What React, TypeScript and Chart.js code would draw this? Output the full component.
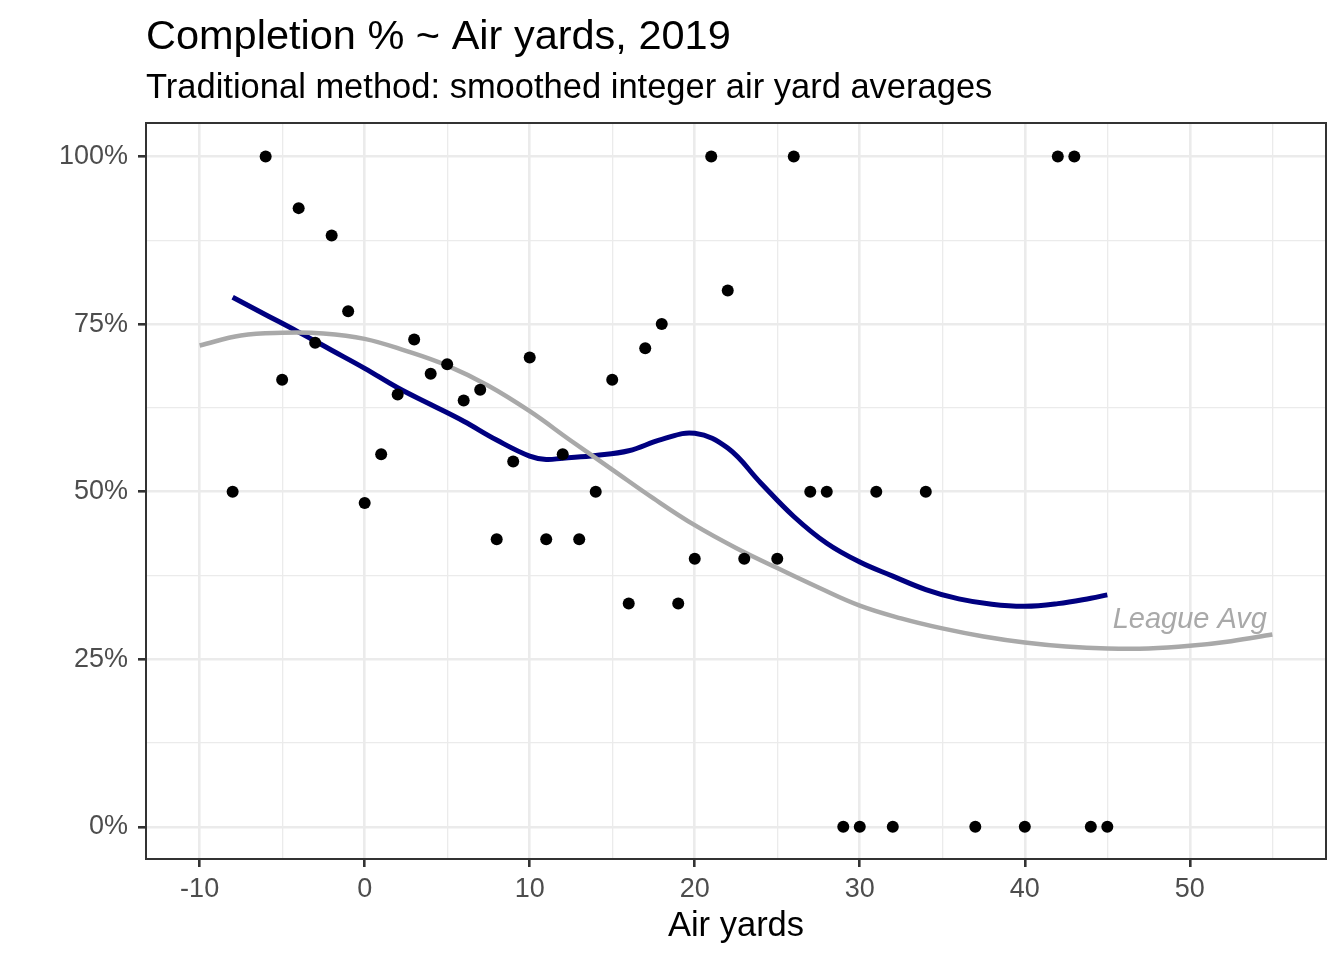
import { useEffect, useRef } from "react";
import { Chart, registerables } from "chart.js";

Chart.register(...registerables);

const TITLE = "Completion % ~ Air yards, 2019";
const SUBTITLE = "Traditional method: smoothed integer air yard averages";
const X_TITLE = "Air yards";
const LEAGUE_LABEL = "League Avg";
const LEAGUE_LABEL_X = 50;
const LEAGUE_LABEL_Y = 30.9;

const X_TICKS = [-10, -5, 0, 5, 10, 15, 20, 25, 30, 35, 40, 45, 50, 55];
const Y_TICKS = [0, 12.5, 25, 37.5, 50, 62.5, 75, 87.5, 100];

const airYards = [-8, -6, -5, -4, -3, -2, -1, 0, 1, 2, 3, 4, 5, 6, 7, 8, 9, 10, 11, 12, 13, 14, 15, 16, 17, 18, 19, 20, 21, 22, 23, 25, 26, 27, 28, 29, 30, 31, 32, 34, 37, 40, 42, 43, 44, 45];
const completionPct = [50, 100, 66.7, 92.3, 72.2, 88.2, 76.9, 48.3, 55.6, 64.5, 72.7, 67.6, 69.0, 63.6, 65.2, 42.9, 54.5, 70, 42.9, 55.6, 42.9, 50, 66.7, 33.3, 71.4, 75, 33.3, 40, 100, 80, 40, 40, 100, 50, 50, 0, 0, 50, 0, 50, 0, 0, 100, 100, 0, 0];

const teamSmoothX = [-8, -6, -4, -2, 0, 2, 4, 6, 8, 10, 11, 12, 14, 16, 18, 20, 22, 24, 26, 28, 30, 32, 34, 36, 38, 40, 42, 44, 45];
const teamSmoothY = [79.0, 76.4, 73.8, 71.1, 68.4, 65.5, 63.0, 60.5, 57.7, 55.3, 54.8, 55.0, 55.4, 56.1, 57.8, 58.7, 56.5, 51.3, 46.3, 42.3, 39.5, 37.4, 35.4, 34.0, 33.2, 32.9, 33.3, 34.1, 34.6];

const leagueSmoothX = [-10, -7.5, -5, -2.5, 0, 2.5, 5, 7.5, 10, 12.5, 15, 17.5, 20, 22.5, 25, 27.5, 30, 32.5, 35, 37.5, 40, 42.5, 45, 47.5, 50, 52.5, 55];
const leagueSmoothY = [71.8, 73.3, 73.7, 73.6, 72.8, 71.0, 68.8, 65.8, 62.0, 57.6, 53.3, 49.0, 45.0, 41.6, 38.6, 35.7, 33.0, 31.1, 29.6, 28.4, 27.5, 26.9, 26.6, 26.6, 27.0, 27.7, 28.7];

const FONT = "'Liberation Sans', Arial, Helvetica, sans-serif";

export default function App() {
  const ref = useRef<HTMLCanvasElement | null>(null);

  useEffect(() => {
    document.body.style.margin = "0";
    const canvas = ref.current;
    if (!canvas) return;

    const decor = {
      id: "decor",
      afterDatasetsDraw(chart: any) {
        const { ctx, scales } = chart;
        ctx.save();
        ctx.font = `italic 29px ${FONT}`;
        ctx.fillStyle = "#a9a9a9";
        ctx.textAlign = "center";
        ctx.textBaseline = "middle";
        ctx.fillText(LEAGUE_LABEL, scales.x.getPixelForValue(LEAGUE_LABEL_X), scales.y.getPixelForValue(LEAGUE_LABEL_Y));
        ctx.restore();
      },
      afterDraw(chart: any) {
        const { ctx, chartArea } = chart;
        const { left, right, top, bottom } = chartArea;
        ctx.save();
        ctx.strokeStyle = "#333333";
        ctx.lineWidth = 2;
        ctx.strokeRect(left, top, right - left, bottom - top);
        ctx.fillStyle = "#000000";
        ctx.textBaseline = "alphabetic";
        ctx.textAlign = "left";
        ctx.font = `41.5px ${FONT}`;
        ctx.fillText(TITLE, left, 49);
        ctx.font = `34.5px ${FONT}`;
        ctx.fillText(SUBTITLE, left, 98);
        ctx.textAlign = "center";
        ctx.fillText(X_TITLE, (left + right) / 2, 936);
        ctx.restore();
      },
    };

    const isMajorX = (v: number) => v % 10 === 0;
    const isMajorY = (v: number) => v % 25 === 0;

    const chart = new Chart(canvas, {
      type: "scatter",
      data: {
        datasets: [
          {
            label: "Completion %",
            data: airYards.map((x, i) => ({ x, y: completionPct[i] })),
            pointRadius: 6,
            pointBackgroundColor: "#000000",
            pointBorderColor: "#000000",
            pointBorderWidth: 0,
            showLine: false,
            order: 0,
          },
          {
            label: "League",
            data: leagueSmoothX.map((x, i) => ({ x, y: leagueSmoothY[i] })),
            showLine: true,
            borderColor: "#a9a9a9",
            borderWidth: 4.5,
            pointRadius: 0,
            tension: 0.4,
            fill: false,
            order: 1,
          },
          {
            label: "Team",
            data: teamSmoothX.map((x, i) => ({ x, y: teamSmoothY[i] })),
            showLine: true,
            borderColor: "#000080",
            borderWidth: 5,
            pointRadius: 0,
            tension: 0.4,
            fill: false,
            order: 2,
          },
        ],
      },
      options: {
        responsive: false,
        animation: false,
        layout: { padding: { top: 123, right: 18, left: 0, bottom: 0 } },
        plugins: {
          legend: { display: false },
          tooltip: { enabled: false },
          title: { display: false },
        },
        scales: {
          x: {
            type: "linear",
            min: -13.25,
            max: 58.25,
            afterBuildTicks: (s: any) => {
              s.ticks = X_TICKS.map((v) => ({ value: v }));
            },
            afterFit: (s: any) => {
              s.height = 101;
            },
            border: { display: false },
            grid: {
              color: "#ebebeb",
              lineWidth: (c: any) => (c.tick && isMajorX(c.tick.value) ? 2.6 : 1.3),
              drawTicks: true,
              tickLength: 8,
              tickWidth: 2.6,
              tickColor: (c: any) => (c.tick && isMajorX(c.tick.value) ? "#333333" : "rgba(0,0,0,0)"),
            },
            ticks: {
              autoSkip: false,
              maxRotation: 0,
              minRotation: 0,
              padding: 6,
              color: "#4d4d4d",
              font: { family: FONT, size: 27 },
              callback: (v: any) => (isMajorX(Number(v)) ? String(v) : ""),
            },
          },
          y: {
            type: "linear",
            min: -4.8,
            max: 105,
            afterBuildTicks: (s: any) => {
              s.ticks = Y_TICKS.map((v) => ({ value: v }));
            },
            afterFit: (s: any) => {
              s.width = 146;
            },
            border: { display: false },
            grid: {
              color: "#ebebeb",
              lineWidth: (c: any) => (c.tick && isMajorY(c.tick.value) ? 2.6 : 1.3),
              drawTicks: true,
              tickLength: 8,
              tickWidth: 2.6,
              tickColor: (c: any) => (c.tick && isMajorY(c.tick.value) ? "#333333" : "rgba(0,0,0,0)"),
            },
            ticks: {
              autoSkip: false,
              padding: 10,
              color: "#4d4d4d",
              font: { family: FONT, size: 27 },
              callback: (v: any) => (isMajorY(Number(v)) ? `${v}%` : ""),
            },
          },
        },
      },
      plugins: [decor],
    });

    return () => chart.destroy();
  }, []);

  return <canvas ref={ref} width={1344} height={960} style={{ display: "block" }} />;
}
